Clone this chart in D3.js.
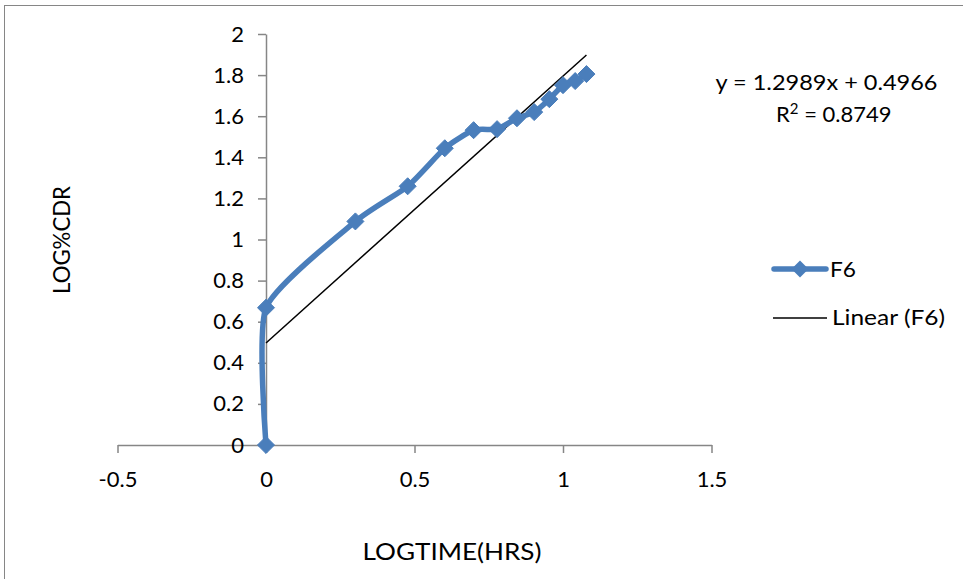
<!DOCTYPE html>
<html><head><meta charset="utf-8">
<script src="https://cdn.jsdelivr.net/npm/d3@7"></script>
<style>body{margin:0;background:#fff}svg{display:block}text{font-family:Lato,"Open Sans",sans-serif}</style>
</head><body>
<svg id="c" width="963" height="579"></svg>
<script>
const logTime = [0, 0, 0.301, 0.477, 0.602, 0.699, 0.778, 0.845, 0.903, 0.954, 1.0, 1.041, 1.079];
const logCDR  = [0, 0.668, 1.088, 1.259, 1.444, 1.532, 1.537, 1.59, 1.62, 1.683, 1.751, 1.771, 1.805];
const xTicks = [-0.5, 0, 0.5, 1, 1.5];
const yTicks = [0, 0.2, 0.4, 0.6, 0.8, 1, 1.2, 1.4, 1.6, 1.8, 2];
const slope = 1.2989, intercept = 0.4966, r2 = 0.8749;
const seriesName = "F6", trendName = "Linear (F6)";
const xTitle = "LOGTIME(HRS)", yTitle = "LOG%CDR";

const svg = d3.select("#c");
const blue = "#4a7ebb";
const fs = 22;
svg.append("rect").attr("x",4.5).attr("y",5.5).attr("width",980).attr("height",600)
  .attr("fill","#fff").attr("stroke","#868686").attr("stroke-width",1);

const x = d3.scaleLinear().domain([-0.5,1.5]).range([117.5,711.5]);
const y = d3.scaleLinear().domain([0,2]).range([445,34]);
const axisCol = "#868686";

const gx = svg.append("g").attr("transform",`translate(0,${y(0)})`)
  .call(d3.axisBottom(x).tickValues(xTicks).tickSize(8).tickSizeOuter(0).tickFormat(d=>d3.format("")(d).replace("−","-")));
gx.select(".domain").attr("stroke",axisCol).attr("stroke-width",1.5);
gx.selectAll(".tick line").attr("stroke",axisCol).attr("stroke-width",1.5);
gx.selectAll(".tick text").attr("font-size",fs).attr("fill","#000").attr("y",42).attr("dy",0);

const gy = svg.append("g").attr("transform",`translate(${x(0)},0)`)
  .call(d3.axisLeft(y).tickValues(yTicks).tickSize(8).tickSizeOuter(0).tickFormat(d3.format("")));
gy.select(".domain").attr("stroke",axisCol).attr("stroke-width",1.5);
gy.selectAll(".tick line").attr("stroke",axisCol).attr("stroke-width",1.5);
gy.selectAll(".tick text").attr("font-size",fs).attr("fill","#000").attr("x",-22);

const xMin = d3.min(logTime), xMax = d3.max(logTime);
svg.append("line").attr("x1",x(xMin)).attr("y1",y(slope*xMin+intercept))
  .attr("x2",x(xMax)).attr("y2",y(slope*xMax+intercept))
  .attr("stroke","#000").attr("stroke-width",1.5);

const pts = logTime.map((v,i)=>[v,logCDR[i]]);
const line = d3.line().x(d=>x(d[0])).y(d=>y(d[1])).curve(d3.curveCardinal.tension(0.4));
svg.append("path").datum(pts).attr("d",line).attr("fill","none")
  .attr("stroke",blue).attr("stroke-width",5.5).attr("stroke-linejoin","round").attr("stroke-linecap","round");
const diamond = d3.symbol().type(d3.symbolDiamond2).size(185);
svg.selectAll("path.m").data(pts).join("path").attr("class","m")
  .attr("d",diamond).attr("transform",d=>`translate(${x(d[0])},${y(d[1])})`)
  .attr("fill",blue).attr("stroke",blue).attr("stroke-width",1);

svg.append("text").attr("x",826.5).attr("y",90).attr("text-anchor","middle").attr("font-size",fs)
  .attr("textLength",222).attr("lengthAdjust","spacingAndGlyphs")
  .text(`y = ${slope}x + ${intercept}`);
const rt = svg.append("text").attr("x",776).attr("y",122).attr("font-size",fs);
rt.append("tspan").text("R");
rt.append("tspan").attr("font-size",15).attr("dy",-8).text("2");
rt.append("tspan").attr("dy",8).text(` = ${r2}`);

const lg = svg.append("g");
lg.append("line").attr("x1",774).attr("x2",826).attr("y1",269).attr("y2",269)
  .attr("stroke",blue).attr("stroke-width",5.5).attr("stroke-linecap","round");
lg.append("path").attr("d",diamond).attr("transform","translate(800,269)").attr("fill",blue);
lg.append("text").attr("x",830).attr("y",277).attr("font-size",fs)
  .attr("textLength",26).attr("lengthAdjust","spacingAndGlyphs").text(seriesName);
lg.append("line").attr("x1",773).attr("x2",827).attr("y1",318).attr("y2",318)
  .attr("stroke","#000").attr("stroke-width",1.5);
lg.append("text").attr("x",832).attr("y",325).attr("font-size",fs)
  .attr("textLength",113).attr("lengthAdjust","spacingAndGlyphs").text(trendName);

svg.append("text").attr("x",452).attr("y",560).attr("text-anchor","middle").attr("font-size",23)
  .attr("textLength",179).attr("lengthAdjust","spacingAndGlyphs").text(xTitle);
svg.append("text").attr("transform","translate(70,240) rotate(-90)").attr("text-anchor","middle")
  .attr("font-size",23).attr("textLength",108).attr("lengthAdjust","spacingAndGlyphs").text(yTitle);
</script>
</body></html>
